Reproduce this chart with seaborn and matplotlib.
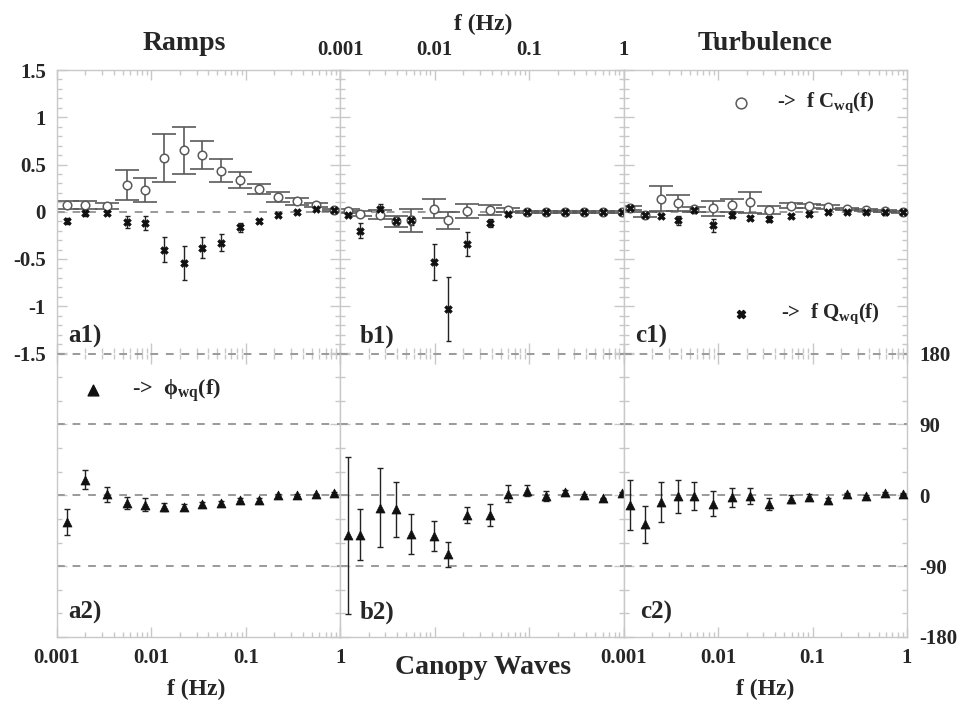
import matplotlib
matplotlib.use("Agg")
import numpy as np
import seaborn as sns
from matplotlib import pyplot as plt
from matplotlib.ticker import FixedLocator, FixedFormatter, LogLocator, NullFormatter, MultipleLocator


# ===== values =====
freq_ramps = [0.00129, 0.002, 0.0034, 0.0055, 0.0086, 0.0137, 0.022, 0.0347, 0.055,
              0.087, 0.138, 0.22, 0.347, 0.55, 0.85]
c_ramps = [0.07, 0.07, 0.06, 0.28, 0.23, 0.57, 0.65, 0.60, 0.435, 0.335, 0.24, 0.155, 0.11, 0.07, 0.02]
c_ramps_err = [0.04, 0.04, 0.035, 0.16, 0.13, 0.25, 0.25, 0.15, 0.12, 0.085, 0.055, 0.05, 0.035, 0.02, 0.01]
q_ramps = [-0.095, -0.01, -0.01, -0.11, -0.12, -0.40, -0.545, -0.38, -0.33, -0.165, -0.10, -0.03, 0.0, 0.03, 0.02]
q_ramps_err = [0.03, 0.03, 0.02, 0.06, 0.07, 0.13, 0.18, 0.11, 0.09, 0.05, 0.02, 0.02, 0.02, 0.01, 0.01]
phi_ramps = [-34, 20, 1, -10, -12, -15, -15, -11, -10, -5.5, -6, 0, 0, 1, 3]
phi_ramps_err = [16, 12, 10, 8, 8, 5, 4, 3, 3, 2, 2, 2, 1, 1, 1]

freq_canopy = [0.00122, 0.0016, 0.0026, 0.0039, 0.0056, 0.0098, 0.0138, 0.022, 0.038,
               0.06, 0.095, 0.15, 0.24, 0.38, 0.6, 0.95]
c_canopy = [0.01, -0.02, -0.03, -0.10, -0.09, 0.03, -0.09, 0.01, 0.02, 0.02, 0.0, 0.0, 0.0, 0.0, 0.0, 0.0]
c_canopy_err = [0.02, 0.03, 0.05, 0.06, 0.12, 0.10, 0.09, 0.075, 0.055, 0.02, 0.01, 0.01, 0.01, 0.01, 0.01, 0.01]
q_canopy = [-0.03, -0.20, 0.03, -0.10, -0.09, -0.53, -1.03, -0.34, -0.12, -0.02, 0.0, 0.0, 0.0, 0.0, 0.0, 0.0]
q_canopy_err = [0.02, 0.08, 0.05, 0.04, 0.05, 0.19, 0.34, 0.13, 0.04, 0.02, 0.01, 0.01, 0.01, 0.01, 0.01, 0.01]
phi_canopy = [-51, -50, -16, -18, -49, -52, -75, -25, -24.5, 2, 6, -1, 4, 0, -4, 3]
phi_canopy_err = [100, 32, 50, 35, 25, 19, 16, 10, 14, 11, 7, 6, 3, 1, 1, 1]

freq_turb = [0.00118, 0.0017, 0.0025, 0.0038, 0.0056, 0.0089, 0.014, 0.022, 0.035,
             0.059, 0.091, 0.145, 0.23, 0.37, 0.59, 0.91]
c_turb = [0.04, -0.03, 0.14, 0.09, 0.025, 0.035, 0.07, 0.10, 0.02, 0.065, 0.06, 0.05, 0.03, 0.015, 0.01, 0.0]
c_turb_err = [0.02, 0.03, 0.13, 0.085, 0.03, 0.075, 0.07, 0.11, 0.045, 0.03, 0.025, 0.02, 0.01, 0.01, 0.01, 0.01]
q_turb = [0.04, -0.035, -0.045, -0.09, 0.02, -0.145, -0.03, -0.065, -0.08, -0.045, -0.02, 0.0, 0.0, 0.0, 0.0, 0.0]
q_turb_err = [0.02, 0.02, 0.02, 0.05, 0.02, 0.07, 0.04, 0.02, 0.03, 0.02, 0.02, 0.01, 0.01, 0.01, 0.01, 0.01]
phi_turb = [-12, -37, -8.5, -1, -1, -10.5, -2.5, -0.5, -11, -4.5, -2, -6, 2, -1, 3, 2]
phi_turb_err = [32, 23, 25, 21, 18, 16, 12, 10, 8, 5, 3, 2, 1, 1, 1, 1]

freq_ticks = [0.001, 0.01, 0.1, 1]
freq_tick_labels = ["0.001", "0.01", "0.1", "1"]
top_ticks = [-1.5, -1, -0.5, 0, 0.5, 1, 1.5]
top_tick_labels = ["-1.5", "-1", "-0.5", "0", "0.5", "1", "1.5"]
phase_ticks = [-180, -90, 0, 90, 180]
phase_tick_labels = ["-180", "-90", "0", "90", "180"]
panel_names = [["a1)", "b1)", "c1)"], ["a2)", "b2)", "c2)"]]

# ===== style =====
sns.set_theme(style="white")
plt.rcParams['font.family'] = ['Liberation Serif', 'DejaVu Serif']
plt.rcParams['font.weight'] = 'bold'
plt.rcParams['mathtext.fontset'] = 'custom'
plt.rcParams['mathtext.rm'] = 'Liberation Serif:bold'
plt.rcParams['mathtext.bf'] = 'Liberation Serif:bold'
plt.rcParams['mathtext.it'] = 'Liberation Serif:bold'

SPINE = "#c8c8c8"
DASH = "#9a9a9a"
CGRAY = "#5a5a5a"
TICK_FS = 15
TITLE_FS = 20


def style_axis(ax):
    ax.set_xscale('log')
    ax.set_xlim(1e-3, 1)
    ax.xaxis.set_major_locator(FixedLocator(freq_ticks))
    ax.xaxis.set_minor_locator(LogLocator(base=10, subs=np.arange(2, 10)))
    ax.xaxis.set_minor_formatter(NullFormatter())
    ax.xaxis.set_major_formatter(FixedFormatter(freq_tick_labels))
    ax.tick_params(which='both', direction='in', top=True, bottom=True,
                   left=True, right=True, color=SPINE, width=1,
                   labelbottom=False, labeltop=False, labelleft=False, labelright=False,
                   labelsize=TICK_FS)
    ax.tick_params(which='major', length=7)
    ax.tick_params(which='minor', length=3.5)
    for sp in ax.spines.values():
        sp.set_color(SPINE)
        sp.set_linewidth(1)


def plot_top(ax, f, c, ce, q, qe):
    style_axis(ax)
    ax.set_ylim(-1.5, 1.5)
    ax.yaxis.set_major_locator(FixedLocator(top_ticks))
    ax.yaxis.set_major_formatter(FixedFormatter(top_tick_labels))
    ax.yaxis.set_minor_locator(MultipleLocator(0.1))
    ax.axhline(0, color=DASH, lw=1.4, ls=(0, (4, 4)), zorder=1)
    ax.errorbar(f, c, yerr=ce, fmt='none', ecolor=CGRAY, elinewidth=1.2,
                capsize=8.5, capthick=1.2, zorder=2)
    ax.errorbar(f, q, yerr=qe, fmt='none', ecolor="#222222", elinewidth=1,
                capsize=1.8, capthick=1, zorder=2)
    sns.scatterplot(x=f, y=c, ax=ax, marker='o', s=38, color='white',
                    edgecolor=CGRAY, linewidth=1.1, zorder=3, clip_on=False)
    sns.scatterplot(x=f, y=q, ax=ax, marker='X', s=30, color='#111111',
                    edgecolor='#111111', linewidth=0.5, zorder=4, clip_on=False)
    ax.spines['bottom'].set_visible(False)


def plot_bottom(ax, f, p, pe):
    style_axis(ax)
    ax.set_ylim(-180, 180)
    ax.yaxis.set_major_locator(FixedLocator(phase_ticks))
    ax.yaxis.set_major_formatter(FixedFormatter(phase_tick_labels))
    ax.yaxis.set_minor_locator(MultipleLocator(30))
    for lev in [180, 90, 0, -90]:
        ax.axhline(lev, color=DASH, lw=1.4, ls=(0, (4, 4)), zorder=1, clip_on=False)
    ax.errorbar(f, p, yerr=pe, fmt='none', ecolor="#222222", elinewidth=1,
                capsize=2, capthick=1, zorder=2)
    sns.scatterplot(x=f, y=p, ax=ax, marker='^', s=42, color='#111111',
                    edgecolor='#111111', linewidth=0.5, zorder=3, clip_on=False)
    ax.spines['top'].set_visible(False)


fig, axes = plt.subplots(2, 3, figsize=(9.6, 7.04), dpi=100)
fig.subplots_adjust(left=57 / 960, right=907 / 960, top=1 - 70 / 704,
                    bottom=1 - 637 / 704, wspace=0, hspace=0)

plot_top(axes[0, 0], freq_ramps, c_ramps, c_ramps_err, q_ramps, q_ramps_err)
plot_top(axes[0, 1], freq_canopy, c_canopy, c_canopy_err, q_canopy, q_canopy_err)
plot_top(axes[0, 2], freq_turb, c_turb, c_turb_err, q_turb, q_turb_err)
plot_bottom(axes[1, 0], freq_ramps, phi_ramps, phi_ramps_err)
plot_bottom(axes[1, 1], freq_canopy, phi_canopy, phi_canopy_err)
plot_bottom(axes[1, 2], freq_turb, phi_turb, phi_turb_err)

# tick labels
axes[0, 0].tick_params(labelleft=True, pad=8)
axes[1, 2].tick_params(labelright=True, pad=9)
axes[1, 0].tick_params(axis='x', labelbottom=True, pad=8)
axes[1, 2].tick_params(axis='x', labelbottom=True, pad=8)
axes[0, 1].tick_params(axis='x', labeltop=True, pad=7)

# titles / axis names
fig.text(184 / 960, 1 - 44 / 704, "Ramps", ha='center', va='center', fontsize=TITLE_FS, fontweight='bold')
fig.text(765 / 960, 1 - 44 / 704, "Turbulence", ha='center', va='center', fontsize=TITLE_FS, fontweight='bold')
fig.text(483 / 960, 1 - 24 / 704, "f (Hz)", ha='center', va='center', fontsize=17, fontweight='bold')
fig.text(483 / 960, 1 - 668 / 704, "Canopy Waves", ha='center', va='center', fontsize=TITLE_FS, fontweight='bold')
fig.text(196 / 960, 1 - 689 / 704, "f (Hz)", ha='center', va='center', fontsize=17, fontweight='bold')
fig.text(765 / 960, 1 - 689 / 704, "f (Hz)", ha='center', va='center', fontsize=17, fontweight='bold')

# panel labels
label_x = [[0.04, 0.07, 0.04], [0.04, 0.07, 0.057]]
for i in range(2):
    for j in range(3):
        axes[i, j].text(label_x[i][j], 0.02 if i == 0 else 0.045, panel_names[i][j],
                        transform=axes[i, j].transAxes, ha='left', va='bottom',
                        fontsize=18, fontweight='bold')

# in-panel keys
ax = axes[0, 2]
ax.scatter([0.413], [0.885], transform=ax.transAxes, marker='o', s=60,
           facecolor='white', edgecolor=CGRAY, linewidth=1.1, clip_on=False)
ax.text(0.54, 0.885, r"->  f C$_{\mathbf{wq}}$(f)", transform=ax.transAxes,
        ha='left', va='center', fontsize=15, fontweight='bold')
ax.scatter([0.415], [0.14], transform=ax.transAxes, marker='X', s=34,
           color='#111111', clip_on=False)
ax.text(0.555, 0.14, r"->  f Q$_{\mathbf{wq}}$(f)", transform=ax.transAxes,
        ha='left', va='center', fontsize=15, fontweight='bold')

ax = axes[1, 0]
ax.scatter([0.127], [0.87], transform=ax.transAxes, marker='^', s=60,
           color='#111111', clip_on=False)
ax.text(0.265, 0.87, "->  \u03d5$_{\\mathbf{wq}}$(f)", transform=ax.transAxes,
        ha='left', va='center', fontsize=16, fontweight='bold')

fig.savefig("out.png", dpi=100)
